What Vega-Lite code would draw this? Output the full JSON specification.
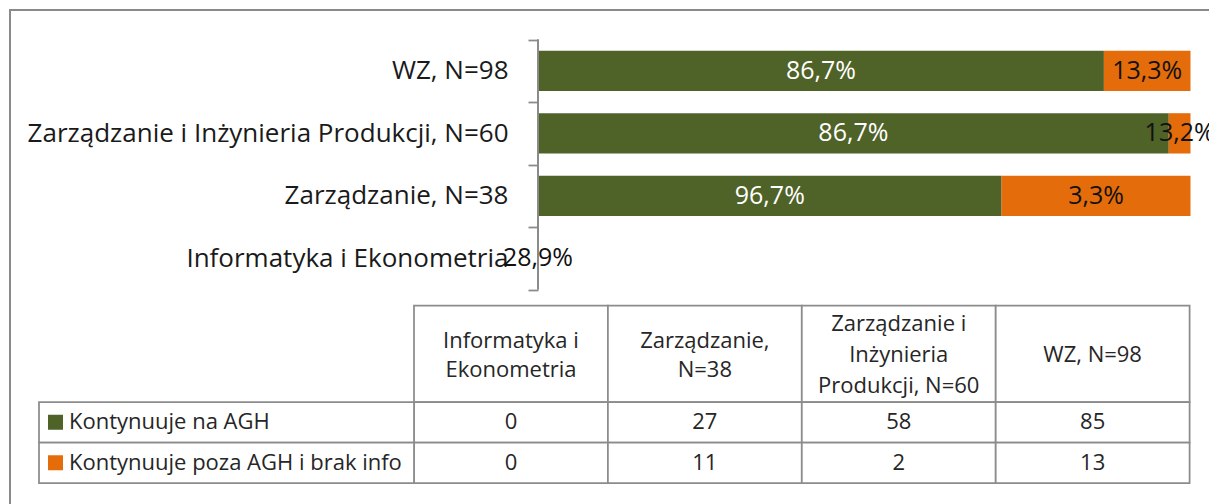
{
  "$schema": "https://vega.github.io/schema/vega-lite/v6.json",
  "width": 1209,
  "height": 504,
  "autosize": {"type": "fit", "contains": "padding"},
  "padding": {"left": 10, "top": 10, "right": -10, "bottom": -10},
  "config": {
    "font": "Open Sans",
    "view": {"stroke": "#8a8a8a", "strokeWidth": 2}
  },
  "datasets": {
    "bars": [
      {"cat": "WZ, N=98", "series": "Kontynuuje na AGH", "ord": 1, "pct": 86.73, "lab": "86,7%"},
      {"cat": "WZ, N=98", "series": "Kontynuuje poza AGH i brak info", "ord": 2, "pct": 13.27, "lab": "13,3%"},
      {"cat": "Zarządzanie i Inżynieria Produkcji, N=60", "series": "Kontynuuje na AGH", "ord": 1, "pct": 96.67, "lab": "86,7%"},
      {"cat": "Zarządzanie i Inżynieria Produkcji, N=60", "series": "Kontynuuje poza AGH i brak info", "ord": 2, "pct": 3.33, "lab": "13,2%"},
      {"cat": "Zarządzanie, N=38", "series": "Kontynuuje na AGH", "ord": 1, "pct": 71.05, "lab": "96,7%"},
      {"cat": "Zarządzanie, N=38", "series": "Kontynuuje poza AGH i brak info", "ord": 2, "pct": 28.95, "lab": "3,3%"},
      {"cat": "Informatyka i Ekonometria", "series": "Kontynuuje na AGH", "ord": 1, "pct": 0, "lab": ""},
      {"cat": "Informatyka i Ekonometria", "series": "Kontynuuje poza AGH i brak info", "ord": 2, "pct": 0, "lab": "28,9%"}
    ],
    "header": [
      {"col": "Inf", "part": "h", "h": "Informatyka i\nEkonometria"},
      {"col": "Zarz", "part": "h", "h": "Zarządzanie,\nN=38"},
      {"col": "ZiIP", "part": "h", "h": "Zarządzanie i\nInżynieria\nProdukcji, N=60"},
      {"col": "WZ", "part": "h", "h": "WZ, N=98"}
    ],
    "body": [
      {"col": "Inf", "series": "Kontynuuje na AGH", "n": 0},
      {"col": "Zarz", "series": "Kontynuuje na AGH", "n": 27},
      {"col": "ZiIP", "series": "Kontynuuje na AGH", "n": 58},
      {"col": "WZ", "series": "Kontynuuje na AGH", "n": 85},
      {"col": "Inf", "series": "Kontynuuje poza AGH i brak info", "n": 0},
      {"col": "Zarz", "series": "Kontynuuje poza AGH i brak info", "n": 11},
      {"col": "ZiIP", "series": "Kontynuuje poza AGH i brak info", "n": 2},
      {"col": "WZ", "series": "Kontynuuje poza AGH i brak info", "n": 13}
    ],
    "legend": [
      {"lc": "L", "series": "Kontynuuje na AGH"},
      {"lc": "L", "series": "Kontynuuje poza AGH i brak info"}
    ]
  },
  "resolve": {"scale": {"x": "independent", "y": "independent"}},
  "layer": [
    {
      "data": {"name": "bars"},
      "mark": {"type": "bar"},
      "encoding": {
        "y": {"field": "cat", "type": "nominal", "title": null,
          "scale": {"type": "band", "domain": ["WZ, N=98", "Zarządzanie i Inżynieria Produkcji, N=60", "Zarządzanie, N=38", "Informatyka i Ekonometria", "_b1", "_b2", "_b3"], "paddingInner": 0.355, "paddingOuter": 0.7095, "align": 0.459, "round": false},
          "axis": {"orient": "left", "offset": -528, "domain": false, "values": ["WZ, N=98", "Zarządzanie i Inżynieria Produkcji, N=60", "Zarządzanie, N=38", "Informatyka i Ekonometria", "_b1"], "labelExpr": "indexof(datum.value, '_') === 0 ? '' : datum.value", "bandPosition": 0, "tickExtra": false, "tickOffset": -11.1, "labelOffset": 11.1, "tickSize": 10, "tickColor": "#8a8a8a", "tickWidth": 1.75, "labelFontSize": 26, "labelColor": "#1a1a1a", "labelPadding": 20, "labelLimit": 800, "title": null}},
        "x": {"field": "pct", "type": "quantitative", "stack": "zero",
          "scale": {"domain": [-80.92, 104.37], "nice": false, "zero": false}, "axis": null},
        "color": {"field": "series", "type": "nominal", "legend": null,
          "scale": {"domain": ["Kontynuuje na AGH", "Kontynuuje poza AGH i brak info"], "range": ["#4f6228", "#e46c0a"]}},
        "order": {"field": "ord", "type": "quantitative"}
      }
    },
    {
      "data": {"name": "bars"},
      "mark": {"type": "tick", "orient": "vertical", "size": 62.5, "thickness": 1.75, "color": "#8a8a8a", "opacity": 1},
      "encoding": {
        "y": {"field": "cat", "type": "nominal",
          "scale": {"type": "band", "domain": ["WZ, N=98", "Zarządzanie i Inżynieria Produkcji, N=60", "Zarządzanie, N=38", "Informatyka i Ekonometria", "_b1", "_b2", "_b3"], "paddingInner": 0.355, "paddingOuter": 0.7095, "align": 0.459, "round": false},
          "axis": null},
        "x": {"datum": 0, "type": "quantitative",
          "scale": {"domain": [-80.92, 104.37], "nice": false, "zero": false}, "axis": null}
      }
    },
    {
      "data": {"name": "bars"},
      "transform": [
        {"stack": "pct", "groupby": ["cat"], "sort": [{"field": "ord", "order": "ascending"}], "as": ["s0", "s1"]},
        {"fold": ["s0", "s1"], "as": ["k", "v"]},
        {"aggregate": [{"op": "mean", "field": "v", "as": "mid"}], "groupby": ["cat", "series", "lab"]}
      ],
      "mark": {"type": "text", "fontSize": 25, "baseline": "middle", "align": "center"},
      "encoding": {
        "y": {"field": "cat", "type": "nominal",
          "scale": {"type": "band", "domain": ["WZ, N=98", "Zarządzanie i Inżynieria Produkcji, N=60", "Zarządzanie, N=38", "Informatyka i Ekonometria", "_b1", "_b2", "_b3"], "paddingInner": 0.355, "paddingOuter": 0.7095, "align": 0.459, "round": false},
          "axis": null},
        "x": {"field": "mid", "type": "quantitative",
          "scale": {"domain": [-80.92, 104.37], "nice": false, "zero": false}, "axis": null},
        "text": {"field": "lab"},
        "color": {"condition": {"test": "datum.series === 'Kontynuuje na AGH'", "value": "#ffffff"}, "value": "#111111"}
      }
    },
    {
      "data": {"name": "header"},
      "mark": {"type": "rect", "fill": "#ffffff", "stroke": "#8c8c8c", "strokeWidth": 1.75},
      "encoding": {
        "x": {"field": "col", "type": "nominal", "axis": null,
          "scale": {"type": "band", "domain": ["_c0", "_c1", "Inf", "Zarz", "ZiIP", "WZ"], "paddingInner": 0, "paddingOuter": 0.1176, "align": 0.3553, "round": false}},
        "y": {"field": "part", "type": "nominal", "axis": null,
          "scale": {"type": "band", "domain": ["h"], "paddingInner": 0.5264, "paddingOuter": 1, "align": 0.7252, "round": false}}
      }
    },
    {
      "data": {"name": "body"},
      "mark": {"type": "rect", "fill": "#ffffff", "stroke": "#8c8c8c", "strokeWidth": 1.75},
      "encoding": {
        "x": {"field": "col", "type": "nominal", "axis": null,
          "scale": {"type": "band", "domain": ["_c0", "_c1", "Inf", "Zarz", "ZiIP", "WZ"], "paddingInner": 0, "paddingOuter": 0.1176, "align": 0.3553, "round": false}},
        "y": {"field": "series", "type": "nominal", "axis": null,
          "scale": {"type": "band", "domain": ["_r0", "_r1", "_r2", "_r3", "_r4", "_r5", "_r6", "_r7", "_r8", "Kontynuuje na AGH", "Kontynuuje poza AGH i brak info"], "paddingInner": 0, "paddingOuter": 0.7222, "align": 0.4701, "round": false}}
      }
    },
    {
      "data": {"name": "body"},
      "mark": {"type": "text", "fontSize": 22, "color": "#262626", "baseline": "middle"},
      "encoding": {
        "x": {"field": "col", "type": "nominal", "axis": null,
          "scale": {"type": "band", "domain": ["_c0", "_c1", "Inf", "Zarz", "ZiIP", "WZ"], "paddingInner": 0, "paddingOuter": 0.1176, "align": 0.3553, "round": false}},
        "y": {"field": "series", "type": "nominal", "axis": null,
          "scale": {"type": "band", "domain": ["_r0", "_r1", "_r2", "_r3", "_r4", "_r5", "_r6", "_r7", "_r8", "Kontynuuje na AGH", "Kontynuuje poza AGH i brak info"], "paddingInner": 0, "paddingOuter": 0.7222, "align": 0.4701, "round": false}},
        "text": {"field": "n", "type": "quantitative"}
      }
    },
    {
      "data": {"name": "legend"},
      "mark": {"type": "rect", "fill": "#ffffff", "stroke": "#8c8c8c", "strokeWidth": 1.75},
      "encoding": {
        "x": {"field": "lc", "type": "nominal", "axis": null,
          "scale": {"type": "band", "domain": ["L"], "paddingInner": 0.1007, "paddingOuter": 1, "align": 0.03477, "round": false}},
        "y": {"field": "series", "type": "nominal", "axis": null,
          "scale": {"type": "band", "domain": ["_r0", "_r1", "_r2", "_r3", "_r4", "_r5", "_r6", "_r7", "_r8", "Kontynuuje na AGH", "Kontynuuje poza AGH i brak info"], "paddingInner": 0, "paddingOuter": 0.7222, "align": 0.4701, "round": false}}
      }
    },
    {
      "data": {"name": "legend"},
      "mark": {"type": "point", "shape": "square", "filled": true, "size": 225, "opacity": 1},
      "encoding": {
        "x": {"field": "lc", "type": "nominal", "axis": null, "bandPosition": 0.044,
          "scale": {"type": "band", "domain": ["L"], "paddingInner": 0.1007, "paddingOuter": 1, "align": 0.03477, "round": false}},
        "y": {"field": "series", "type": "nominal", "axis": null,
          "scale": {"type": "band", "domain": ["_r0", "_r1", "_r2", "_r3", "_r4", "_r5", "_r6", "_r7", "_r8", "Kontynuuje na AGH", "Kontynuuje poza AGH i brak info"], "paddingInner": 0, "paddingOuter": 0.7222, "align": 0.4701, "round": false}},
        "color": {"field": "series", "type": "nominal", "legend": null}
      }
    },
    {
      "data": {"name": "legend"},
      "mark": {"type": "text", "fontSize": 22, "color": "#262626", "align": "left", "baseline": "middle"},
      "encoding": {
        "x": {"field": "lc", "type": "nominal", "axis": null, "bandPosition": 0.08,
          "scale": {"type": "band", "domain": ["L"], "paddingInner": 0.1007, "paddingOuter": 1, "align": 0.03477, "round": false}},
        "y": {"field": "series", "type": "nominal", "axis": null,
          "scale": {"type": "band", "domain": ["_r0", "_r1", "_r2", "_r3", "_r4", "_r5", "_r6", "_r7", "_r8", "Kontynuuje na AGH", "Kontynuuje poza AGH i brak info"], "paddingInner": 0, "paddingOuter": 0.7222, "align": 0.4701, "round": false}},
        "text": {"field": "series"}
      }
    },
    {
      "data": {"name": "header"},
      "transform": [{"filter": {"field": "col", "oneOf": ["WZ"]}}],
      "mark": {"type": "text", "fontSize": 22, "lineBreak": "\n", "lineHeight": 30, "color": "#262626", "baseline": "middle"},
      "encoding": {
        "x": {"field": "col", "type": "nominal", "axis": null,
          "scale": {"type": "band", "domain": ["_c0", "_c1", "Inf", "Zarz", "ZiIP", "WZ"], "paddingInner": 0, "paddingOuter": 0.1176, "align": 0.3553, "round": false}},
        "y": {"field": "part", "type": "nominal", "axis": null, "bandPosition": 0.513,
          "scale": {"type": "band", "domain": ["h"], "paddingInner": 0.5264, "paddingOuter": 1, "align": 0.7252, "round": false}},
        "text": {"field": "h"}
      }
    },
    {
      "data": {"name": "header"},
      "transform": [{"filter": {"field": "col", "oneOf": ["Inf", "Zarz"]}}],
      "mark": {"type": "text", "fontSize": 22, "lineBreak": "\n", "lineHeight": 29, "color": "#262626", "baseline": "middle"},
      "encoding": {
        "x": {"field": "col", "type": "nominal", "axis": null,
          "scale": {"type": "band", "domain": ["_c0", "_c1", "Inf", "Zarz", "ZiIP", "WZ"], "paddingInner": 0, "paddingOuter": 0.1176, "align": 0.3553, "round": false}},
        "y": {"field": "part", "type": "nominal", "axis": null, "bandPosition": 0.368,
          "scale": {"type": "band", "domain": ["h"], "paddingInner": 0.5264, "paddingOuter": 1, "align": 0.7252, "round": false}},
        "text": {"field": "h"}
      }
    },
    {
      "data": {"name": "header"},
      "transform": [{"filter": {"field": "col", "oneOf": ["ZiIP"]}}],
      "mark": {"type": "text", "fontSize": 22, "lineBreak": "\n", "lineHeight": 31, "color": "#262626", "baseline": "middle"},
      "encoding": {
        "x": {"field": "col", "type": "nominal", "axis": null,
          "scale": {"type": "band", "domain": ["_c0", "_c1", "Inf", "Zarz", "ZiIP", "WZ"], "paddingInner": 0, "paddingOuter": 0.1176, "align": 0.3553, "round": false}},
        "y": {"field": "part", "type": "nominal", "axis": null, "bandPosition": 0.192,
          "scale": {"type": "band", "domain": ["h"], "paddingInner": 0.5264, "paddingOuter": 1, "align": 0.7252, "round": false}},
        "text": {"field": "h"}
      }
    }
  ]
}
